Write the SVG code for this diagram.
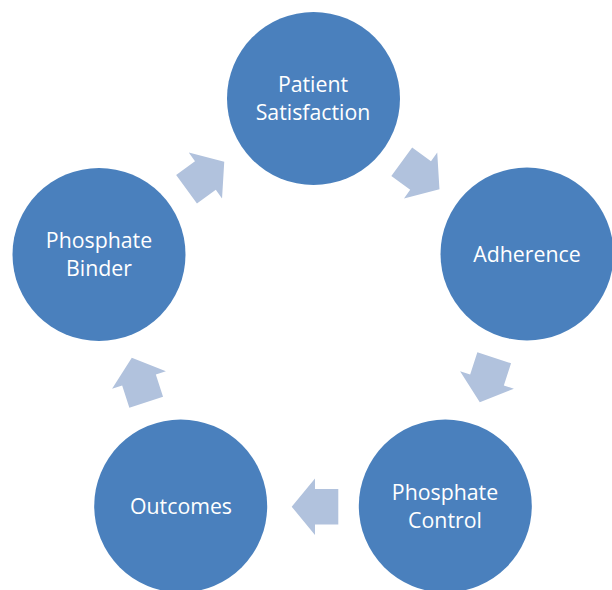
<svg xmlns="http://www.w3.org/2000/svg" width="612" height="590" viewBox="0 0 612 590">
<style>
.node{fill:#4a80bd}
.lbl{fill:#ffffff;font-family:"Open Sans","Liberation Sans",sans-serif;font-size:21.3px;text-anchor:middle}
.arr{fill:#b1c2dd}
</style>
<defs>
<polygon id="arrow" points="-23.3,-17.7 0,-17.7 0,-28.3 23.3,0 0,28.3 0,17.7 -23.3,17.7"/>
</defs>
<rect width="612" height="590" fill="#ffffff"/>
<g id="connectors">
<use href="#arrow" class="arr" transform="translate(420.6,175.5) rotate(36)"/>
<use href="#arrow" class="arr" transform="translate(487,380) rotate(108)"/>
<use href="#arrow" class="arr" transform="translate(315,506.7) rotate(180)"/>
<use href="#arrow" class="arr" transform="translate(139,380) rotate(252)"/>
<use href="#arrow" class="arr" transform="translate(205.4,175.5) rotate(324)"/>
</g>
<g id="patient-satisfaction">
<circle class="node" cx="313.5" cy="98.5" r="86.5"/>
<text class="lbl" x="313" y="92">Patient</text>
<text class="lbl" x="313" y="120">Satisfaction</text>
</g>
<g id="adherence">
<circle class="node" cx="527" cy="254" r="86.5"/>
<text class="lbl" x="527" y="262">Adherence</text>
</g>
<g id="phosphate-control">
<circle class="node" cx="445.3" cy="506" r="86.5"/>
<text class="lbl" x="445" y="500">Phosphate</text>
<text class="lbl" x="445" y="528">Control</text>
</g>
<g id="outcomes">
<circle class="node" cx="180.7" cy="506" r="86.5"/>
<text class="lbl" x="181" y="514">Outcomes</text>
</g>
<g id="phosphate-binder">
<circle class="node" cx="99" cy="254.5" r="86.5"/>
<text class="lbl" x="99" y="248">Phosphate</text>
<text class="lbl" x="99" y="276">Binder</text>
</g>
</svg>
